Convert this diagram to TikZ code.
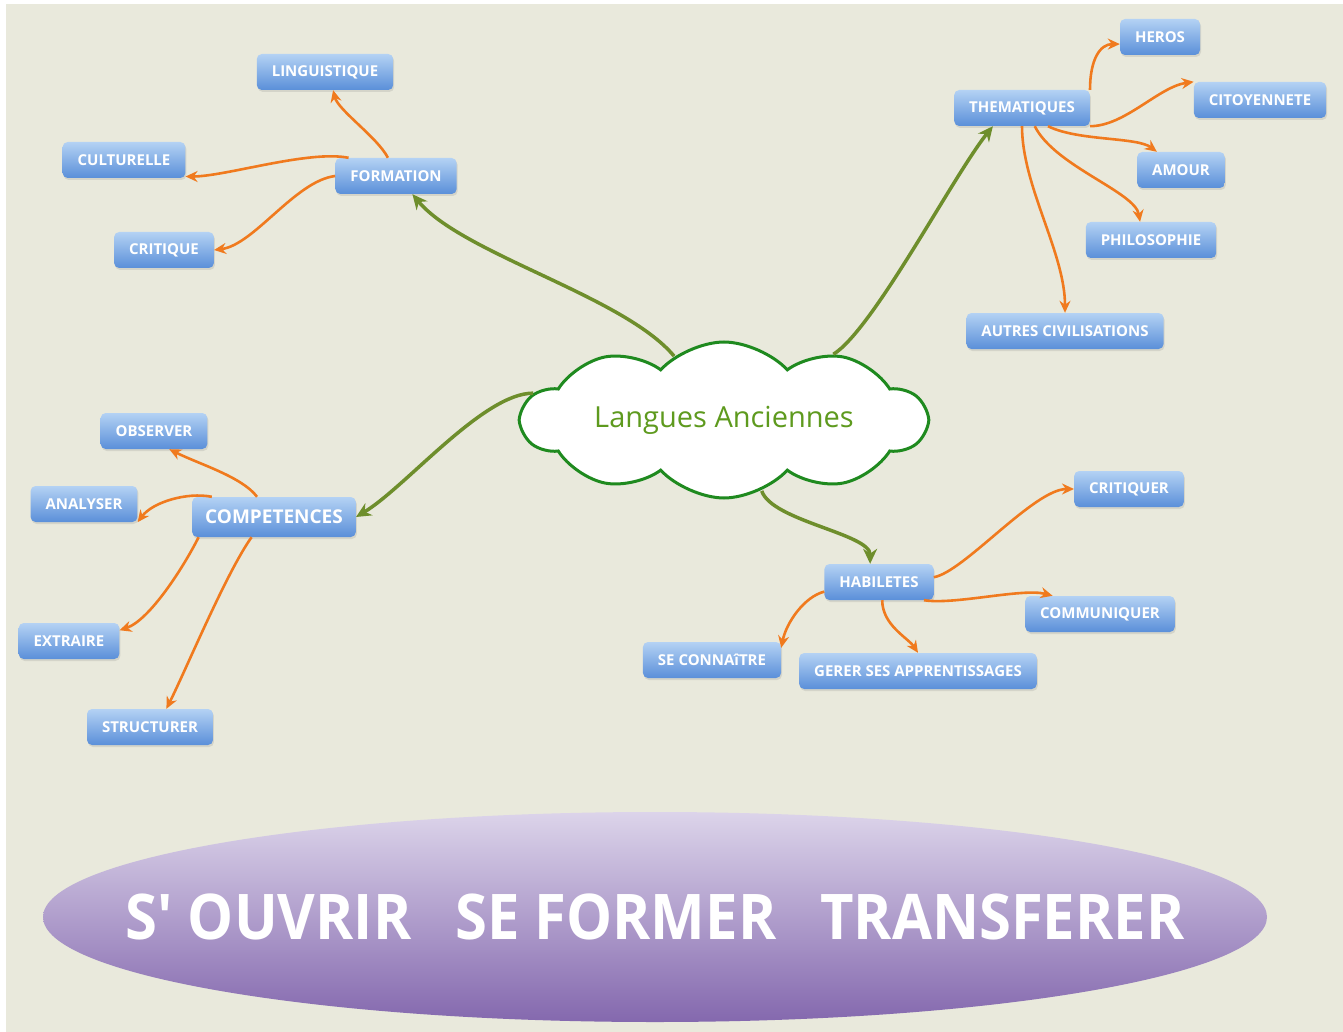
\documentclass[tikz,border=0pt]{standalone}
\usepackage{fontspec}
\setmainfont{Open Sans}
\newfontfamily\bannerfont[FakeStretch=0.92]{Open Sans}
\usepackage{xcolor}
\usepackage{tikz}
\usetikzlibrary{arrows.meta, shapes.symbols, shapes.geometric, shadows}

\definecolor{paper}{HTML}{E9E9DC}
\definecolor{boxtop}{HTML}{B4D2F4}
\definecolor{boxbot}{HTML}{5A8FD9}
\definecolor{branch}{HTML}{6E8E2C}
\definecolor{twig}{HTML}{F07A1E}
\definecolor{cloudline}{HTML}{1F8A1F}
\definecolor{cloudtext}{HTML}{5E9A1E}
\definecolor{bantop}{HTML}{DCD4EA}
\definecolor{banbot}{HTML}{8468AE}

\begin{document}
\begin{tikzpicture}[x=1pt, y=-1pt, >=Stealth,
    topic/.style={rounded corners=5pt, top color=boxtop, bottom color=boxbot, text=white,
      font=\bfseries\fontsize{15}{18}\selectfont, minimum height=36pt, inner xsep=15pt,
      drop shadow={opacity=0.2, shadow xshift=1pt, shadow yshift=-2pt}},
    greenlink/.style={-{Stealth[length=15pt, width=14pt]}, line width=3.5pt, branch},
    orangelink/.style={-{Stealth[length=12pt, width=11pt]}, line width=2.6pt, twig}]
    % Background
    \fill[white] (0,0) rectangle (1343,1032);
    \fill[paper] (6,4) rectangle (1343,1032);
    \useasboundingbox (0,0) rectangle (1343,1032);

    % Centre
    \node[cloud, cloud puffs=10, cloud puff arc=95, cloud ignores aspect, draw=cloudline, line width=3pt, fill=white,
      minimum width=404pt, minimum height=156pt, text=cloudtext, font=\fontsize{29}{33}\selectfont] (langues) at (724,420) {Langues Anciennes};

    % Branches
    \node[topic] (formation) at (396,176) {FORMATION};
    \node[topic] (linguistique) at (325,72) {LINGUISTIQUE};
    \node[topic] (culturelle) at (124,160) {CULTURELLE};
    \node[topic] (critique) at (164,250) {CRITIQUE};
    \node[topic] (thematiques) at (1022,108) {THEMATIQUES};
    \node[topic] (heros) at (1160,37) {HEROS};
    \node[topic] (citoyennete) at (1260,100) {CITOYENNETE};
    \node[topic] (amour) at (1181,170) {AMOUR};
    \node[topic] (philosophie) at (1151,240) {PHILOSOPHIE};
    \node[topic] (autres) at (1065,331) {AUTRES CIVILISATIONS};
    \node[topic, font=\bfseries\fontsize{19}{22}\selectfont, minimum height=40pt, inner xsep=13pt] (competences) at (274,517) {COMPETENCES};
    \node[topic] (observer) at (154,431) {OBSERVER};
    \node[topic] (analyser) at (84,504) {ANALYSER};
    \node[topic] (extraire) at (69,641) {EXTRAIRE};
    \node[topic] (structurer) at (150,727) {STRUCTURER};
    \node[topic] (habiletes) at (879,582) {HABILETES};
    \node[topic] (critiquer) at (1129,489) {CRITIQUER};
    \node[topic] (communiquer) at (1100,614) {COMMUNIQUER};
    \node[topic] (seconnaitre) at (712,660) {SE CONNAîTRE};
    \node[topic] (gerer) at (918,671) {GERER SES APPRENTISSAGES};

    % Motto
    \node[ellipse, top color=bantop, bottom color=banbot, minimum width=1224pt, minimum height=210pt, inner sep=0pt] (devise) at (655,917) {};
    \node[text=white, font=\bannerfont\bfseries\fontsize{63}{70}\selectfont] (motto) at (devise.center) {S' OUVRIR\hspace{44pt}SE FORMER\hspace{44pt}TRANSFERER};

    % Main links
    \draw[greenlink] (langues.128) .. controls +(-50,-60) and +(50,60) .. (formation.-48);
    \draw[greenlink] (langues.31) .. controls +(40,-25) and +(-40,50) .. (thematiques.212);
    \draw[greenlink] (langues.172) .. controls +(-50,0) and +(50,-30) .. (competences.east);
    \draw[greenlink] (langues.-62) .. controls +(10,30) and +(0,-30) .. (habiletes.116);

    % Sub links
    \draw[orangelink] (formation.114) .. controls +(-10,-20) and +(5,20) .. (linguistique.-66);
    \draw[orangelink] (formation.159) .. controls +(-40,-8) and +(40,0) .. (culturelle.-15);
    \draw[orangelink] (formation.west) .. controls +(-40,5) and +(40,-5) .. (critique.east);
    \draw[orangelink] (thematiques.north east) .. controls +(0,-30) and +(-20,0) .. (heros.190);
    \draw[orangelink] (thematiques.south east) .. controls +(35,0) and +(-35,5) .. (citoyennete.north west);
    \draw[orangelink] (thematiques.-35) .. controls +(30,15) and +(-20,-15) .. (amour.143);
    \draw[orangelink] (thematiques.-55) .. controls +(20,40) and +(-5,-30) .. (philosophie.121);
    \draw[orangelink] (thematiques.south) .. controls +(0,60) and +(0,-60) .. (autres.north);
    \draw[orangelink] (competences.130) .. controls +(-15,-20) and +(30,15) .. (observer.-50);
    \draw[orangelink] (competences.162) .. controls +(-25,-5) and +(15,-20) .. (analyser.south east);
    \draw[orangelink] (competences.-165) .. controls +(-15,30) and +(30,-10) .. (extraire.12);
    \draw[orangelink] (competences.-138) .. controls +(-25,35) and +(20,-40) .. (structurer.48);
    \draw[orangelink] (habiletes.5) .. controls +(30,-5) and +(-40,0) .. (critiquer.west);
    \draw[orangelink] (habiletes.-22) .. controls +(30,5) and +(-30,-8) .. (communiquer.159);
    \draw[orangelink] (habiletes.-170) .. controls +(-20,5) and +(5,-25) .. (seconnaitre.10);
    \draw[orangelink] (habiletes.-80) .. controls +(0,25) and +(-10,-15) .. (gerer.north);
\end{tikzpicture}
\end{document}
